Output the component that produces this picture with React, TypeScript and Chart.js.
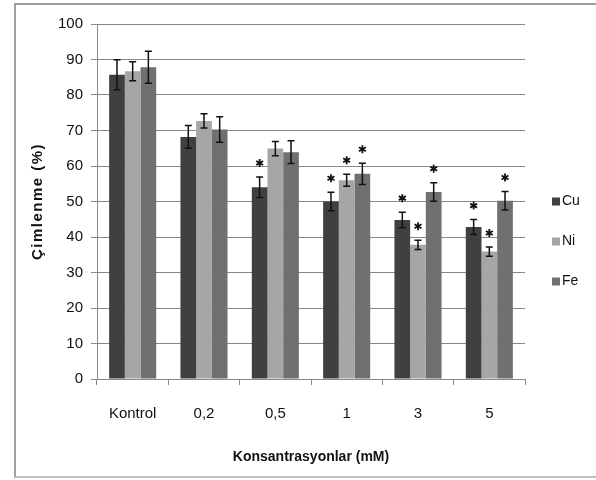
import React, { useEffect, useRef } from "react";
import { Chart, registerables } from "chart.js";

Chart.register(...registerables);

const categories = ["Kontrol", "0,2", "0,5", "1", "3", "5"];
const seriesNames = ["Cu", "Ni", "Fe"];
const cuValues = [85.7, 68.2, 54.0, 50.0, 44.8, 42.8];
const niValues = [86.7, 72.7, 64.9, 56.0, 37.8, 35.9];
const feValues = [87.8, 70.3, 63.9, 57.8, 52.7, 50.2];
const cuErrors = [4.2, 3.2, 2.9, 2.6, 2.2, 2.1];
const niErrors = [2.7, 2.0, 2.0, 1.7, 1.3, 1.3];
const feErrors = [4.5, 3.6, 3.2, 3.0, 2.6, 2.6];
const cuSignificant = [false, false, true, true, true, true];
const niSignificant = [false, false, false, true, true, true];
const feSignificant = [false, false, false, true, true, true];
const yTicks = [0, 10, 20, 30, 40, 50, 60, 70, 80, 90, 100];
const yTitle = "Çimlenme (%)";
const xTitle = "Konsantrasyonlar (mM)";

const colors = ["#404040", "#a6a6a6", "#707070"];
const FONT = "'Liberation Sans', Arial, sans-serif";

const errorsBySeries = [cuErrors, niErrors, feErrors];
const sigBySeries = [cuSignificant, niSignificant, feSignificant];

const errorBarPlugin = {
  id: "errorBars",
  afterDatasetsDraw(chart: any) {
    const ctx = chart.ctx;
    const yScale = chart.scales.y;
    ctx.save();
    chart.data.datasets.forEach((ds: any, di: number) => {
      const meta = chart.getDatasetMeta(di);
      meta.data.forEach((bar: any, i: number) => {
        const v = ds.data[i];
        const e = errorsBySeries[di][i];
        const x = bar.x;
        const yTop = yScale.getPixelForValue(v + e);
        const yBot = yScale.getPixelForValue(v - e);
        ctx.strokeStyle = "#111";
        ctx.lineWidth = 1.5;
        ctx.beginPath();
        ctx.moveTo(x, yTop);
        ctx.lineTo(x, yBot);
        ctx.moveTo(x - 3.5, yTop);
        ctx.lineTo(x + 3.5, yTop);
        ctx.moveTo(x - 3.5, yBot);
        ctx.lineTo(x + 3.5, yBot);
        ctx.stroke();
        if (sigBySeries[di][i]) {
          const cy = yTop - 14;
          ctx.lineWidth = 1.8;
          ctx.beginPath();
          for (let k = 0; k < 3; k++) {
            const a = (Math.PI / 3) * k + Math.PI / 2;
            ctx.moveTo(x + Math.cos(a) * 4, cy + Math.sin(a) * 4);
            ctx.lineTo(x - Math.cos(a) * 4, cy - Math.sin(a) * 4);
          }
          ctx.stroke();
        }
      });
    });
    ctx.restore();
  },
};

const extrasPlugin = {
  id: "extras",
  afterDraw(chart: any) {
    const ctx = chart.ctx;
    const area = chart.chartArea;
    ctx.save();
    // y-axis title
    ctx.translate(38, (area.top + area.bottom) / 2);
    ctx.rotate(-Math.PI / 2);
    ctx.font = `bold 15px ${FONT}`;
    (ctx as any).letterSpacing = "1.5px";
    ctx.fillStyle = "#111";
    ctx.textAlign = "center";
    ctx.textBaseline = "middle";
    ctx.fillText(yTitle, 0, 0);
    ctx.restore();
    // legend
    ctx.save();
    ctx.font = `14px ${FONT}`;
    ctx.textBaseline = "middle";
    ctx.textAlign = "left";
    const legendX = area.right + 27;
    const legendY0 = (area.top + area.bottom) / 2;
    chart.data.datasets.forEach((ds: any, i: number) => {
      const cy = legendY0 + i * 40;
      ctx.fillStyle = ds.backgroundColor;
      ctx.fillRect(legendX, cy - 4, 8, 8);
      ctx.fillStyle = "#111";
      ctx.fillText(ds.label, legendX + 10, cy);
    });
    ctx.restore();
  },
};

export default function App() {
  const ref = useRef<HTMLCanvasElement>(null);
  useEffect(() => {
    if (!ref.current) return;
    const chart = new Chart(ref.current, {
      type: "bar",
      data: {
        labels: categories,
        datasets: [
          { label: seriesNames[0], data: cuValues, backgroundColor: colors[0] },
          { label: seriesNames[1], data: niValues, backgroundColor: colors[1] },
          { label: seriesNames[2], data: feValues, backgroundColor: colors[2] },
        ],
      },
      options: {
        responsive: false,
        maintainAspectRatio: false,
        animation: false,
        layout: { padding: { top: 24, right: 71, left: 0, bottom: 0 } },
        plugins: { legend: { display: false }, tooltip: { enabled: false } },
        datasets: { bar: { categoryPercentage: 0.66, barPercentage: 1.0 } },
        scales: {
          x: {
            afterFit: (s: any) => {
              s.height = 101;
            },
            grid: {
              offset: true,
              drawOnChartArea: false,
              drawTicks: true,
              tickLength: 6,
              color: "#888",
            },
            border: { color: "#888", width: 1 },
            ticks: { color: "#111", font: { family: FONT, size: 15 }, padding: 20 },
            title: {
              display: true,
              text: xTitle,
              color: "#111",
              font: { family: FONT, size: 14, weight: "bold" },
              padding: { top: 0, bottom: 14 },
            },
          },
          y: {
            min: 0,
            max: 100,
            afterFit: (s: any) => {
              s.width = 97;
            },
            afterBuildTicks: (s: any) => {
              s.ticks = yTicks.map((v) => ({ value: v }));
            },
            grid: { color: "#888", tickLength: 6, lineWidth: 1 },
            border: { color: "#888", width: 1 },
            ticks: { color: "#111", font: { family: FONT, size: 15 }, padding: 8 },
          },
        },
      },
      plugins: [errorBarPlugin, extrasPlugin],
    });
    return () => chart.destroy();
  }, []);
  return (
    <div style={{ position: "fixed", left: 0, top: 0, width: 596, height: 480, background: "#fff" }}>
      <div
        style={{
          position: "absolute",
          left: 14,
          top: 3,
          width: 600,
          height: 475,
          borderLeft: "2px solid #a0a0a0",
          borderTop: "2px solid #a0a0a0",
          borderBottom: "2px solid #c0c0c0",
          boxSizing: "border-box",
        }}
      />
      <canvas ref={ref} width={596} height={480} style={{ position: "absolute", left: 0, top: 0 }} />
    </div>
  );
}
